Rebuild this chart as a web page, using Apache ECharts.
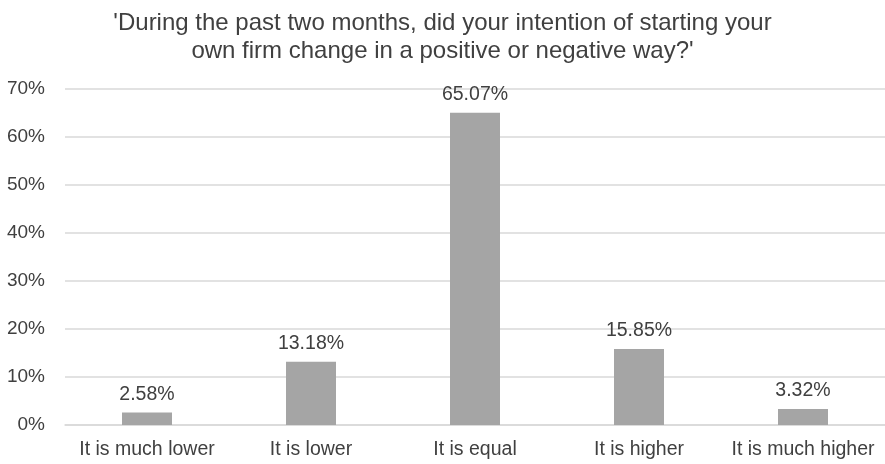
<!DOCTYPE html>
<html><head><meta charset="utf-8">
<script src="https://cdn.jsdelivr.net/npm/echarts@6/dist/echarts.min.js"></script>
<style>html,body{margin:0;padding:0;background:#fff}#c{width:885px;height:464px}</style>
</head><body><div id="c"></div>
<script>
const categories = ['It is much lower','It is lower','It is equal','It is higher','It is much higher'];
const values = [2.58, 13.18, 65.07, 15.85, 3.32];
const yTicks = [0,10,20,30,40,50,60,70];
const titleText = "'During the past two months, did your intention of starting your\nown firm change in a positive or negative way?'";

const chart = echarts.init(document.getElementById('c'), null, {renderer:'canvas'});
chart.setOption({
  animation:false,
  backgroundColor:'#fff',
  title:{text:titleText,left:'center',top:4,textStyle:{fontFamily:'Liberation Sans',fontSize:24,fontWeight:'normal',color:'#404040',lineHeight:28}},
  grid:{left:65,right:0,top:89,bottom:39},
  xAxis:{type:'category',data:categories,axisTick:{show:false},axisLine:{lineStyle:{color:'#d9d9d9',width:1.5}},
    axisLabel:{interval:0,fontFamily:'Liberation Sans',fontSize:19.5,color:'#404040',margin:15}},
  yAxis:{type:'value',min:yTicks[0],max:yTicks[yTicks.length-1],interval:10,
    axisLabel:{fontFamily:'Liberation Sans',fontSize:19,color:'#404040',margin:20,formatter:v=>v+'%'},
    splitLine:{lineStyle:{color:'#d9d9d9',width:1.5}},axisLine:{show:false},axisTick:{show:false}},
  series:[{type:'bar',data:values,barWidth:50,itemStyle:{color:'#a5a5a5'},
    label:{show:true,position:'top',distance:8,fontFamily:'Liberation Sans',fontSize:19.5,color:'#404040',formatter:p=>p.value.toFixed(2)+'%'}}]
});
</script></body></html>
